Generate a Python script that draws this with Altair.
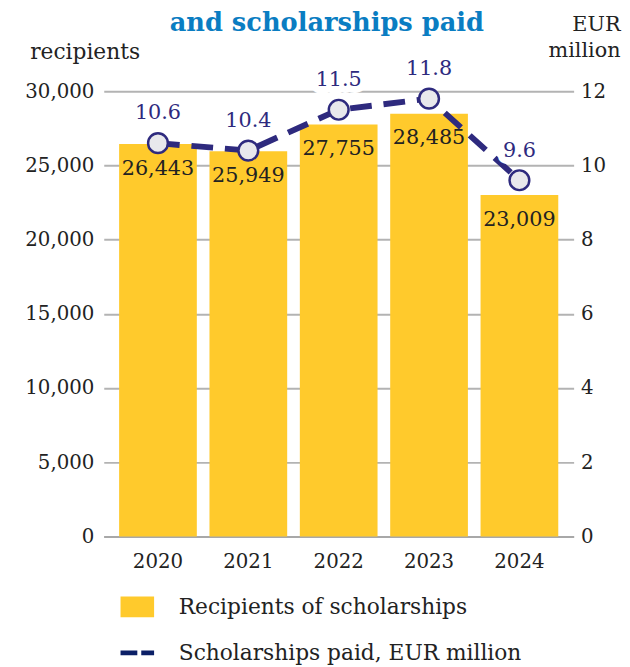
import altair as alt
import pandas as pd

# ---- data ----
years = ["2020", "2021", "2022", "2023", "2024"]
recipients = [26443, 25949, 27755, 28485, 23009]
paid_eur_m = [10.6, 10.4, 11.5, 11.8, 9.6]
recip_ticks = [0, 5000, 10000, 15000, 20000, 25000, 30000]
eur_ticks = [0, 2, 4, 6, 8, 10, 12]
legend_labels = ["Recipients of scholarships", "Scholarships paid, EUR million"]
title_text = "and scholarships paid"

df = pd.DataFrame({
    "year": years,
    "recipients": recipients,
    "paid": paid_eur_m,
})
df["recip_label"] = [f"{v:,}" for v in recipients]
df["paid_label"] = [f"{v:.1f}" for v in paid_eur_m]

FONT = "'Roboto Slab', 'DejaVu Serif', serif"
YELLOW = "#FFCA2C"
NAVY = "#2E2A7E"
LEG_NAVY = "#0B1F66"
BLUE = "#0A7DC2"
TXT = "#222222"
GRID = "#B3B3B3"

W, H = 476, 451

x_enc = alt.X(
    "year:N",
    sort=years,
    scale=alt.Scale(paddingInner=0.14, paddingOuter=0.17),
    axis=alt.Axis(
        title=None, labelAngle=0, labelFontSize=20, labelPadding=16,
        ticks=False, domainColor="#A8A8A8", domainWidth=2, labelColor=TXT,
    ),
)

y_left = alt.Y(
    "recipients:Q",
    scale=alt.Scale(domain=[0, 30000], nice=False),
    axis=alt.Axis(
        values=recip_ticks, format=",.0f", formatType="number",
        grid=True, gridColor=GRID, gridWidth=2,
        ticks=False, domain=False, labelFontSize=20, labelPadding=10,
        labelColor=TXT,
        title="recipients", titleAngle=0, titleX=-75, titleY=-33,
        titleAlign="left", titleBaseline="alphabetic", titleFontSize=22,
        titleFontWeight="normal", titleColor=TXT,
    ),
)

y_right = alt.Y(
    "paid:Q",
    scale=alt.Scale(domain=[0, 12], nice=False),
    axis=alt.Axis(
        orient="right", values=eur_ticks, format="d", formatType="number",
        grid=False, ticks=False, domain=False,
        labelFontSize=20, labelPadding=7, labelColor=TXT,
        title=["EUR", "million"], titleAngle=0, titleX=47, titleY=-62,
        titleAlign="right", titleBaseline="alphabetic", titleFontSize=21,
        titleFontWeight="normal", titleColor=TXT, titleLineHeight=27,
    ),
)

base = alt.Chart(df).encode(x=x_enc)

bars = base.mark_bar(color=YELLOW).encode(y=y_left)
bar_labels = base.mark_text(
    dy=25, baseline="middle", fontSize=21, color=TXT, font=FONT
).encode(y=y_left, text="recip_label:N")
left = alt.layer(bars, bar_labels)

line = base.mark_line(
    color=NAVY, strokeWidth=6, strokeDash=[22, 12]
).encode(y=y_right)
pts = base.mark_circle(
    size=400, fill="#E8E8EC", stroke=NAVY, strokeWidth=2.5, opacity=1
).encode(y=y_right)
lbl_bg = base.mark_text(
    dy=-30, baseline="middle", fontSize=21, font=FONT, color="white",
    stroke="white", strokeWidth=14, strokeJoin="round",
).encode(y=y_right, text="paid_label:N")
lbl = base.mark_text(
    dy=-30, baseline="middle", fontSize=21, font=FONT, color=NAVY
).encode(y=y_right, text="paid_label:N")
right = alt.layer(line, lbl_bg, lbl, pts)

one = alt.Chart(pd.DataFrame({"t": [title_text]}))
title = one.mark_text(
    fontSize=26, fontWeight="bold", color=BLUE, font=FONT,
    align="center", baseline="alphabetic",
).encode(x=alt.value(226), y=alt.value(-61), text="t:N")

leg_df1 = alt.Chart(pd.DataFrame({"t": [legend_labels[0]]}))
leg_df2 = alt.Chart(pd.DataFrame({"t": [legend_labels[1]]}))
leg_rect = leg_df1.mark_rect(color=YELLOW).encode(
    x=alt.value(17), x2=alt.value(51), y=alt.value(512), y2=alt.value(533)
)
leg_txt1 = leg_df1.mark_text(
    align="left", baseline="middle", fontSize=22, color=TXT, font=FONT
).encode(x=alt.value(76), y=alt.value(523), text="t:N")
leg_rule = leg_df2.mark_rule(
    color=LEG_NAVY, strokeWidth=5, strokeDash=[17, 4]
).encode(x=alt.value(17), x2=alt.value(51), y=alt.value(569))
leg_txt2 = leg_df2.mark_text(
    align="left", baseline="middle", fontSize=22, color=TXT, font=FONT
).encode(x=alt.value(76), y=alt.value(569), text="t:N")

chart = alt.layer(
    left, right, title, leg_rect, leg_txt1, leg_rule, leg_txt2
).resolve_scale(y="independent").properties(
    width=W, height=H,
    autosize=alt.AutoSizeParams(type="none"),
    padding={"left": 97, "top": 80, "right": 49, "bottom": 128},
).configure(
    font=FONT,
).configure_view(stroke=None).configure_axis(labelFont=FONT, titleFont=FONT)

chart.save("out.html", embed_options={"renderer": "svg", "actions": False})
